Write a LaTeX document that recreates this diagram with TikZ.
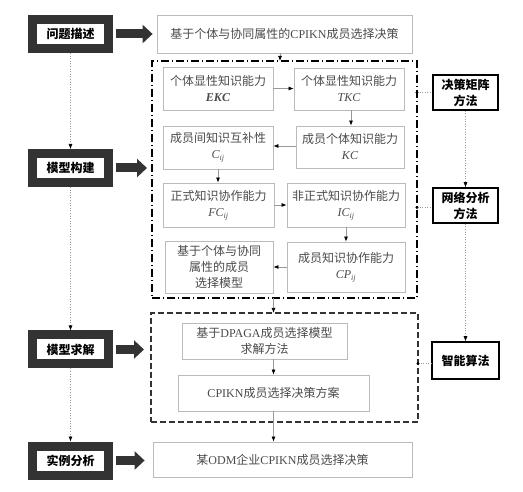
\documentclass[tikz,border=0pt]{standalone}
\usepackage{fontspec}
\setmainfont{Liberation Serif}
\newfontfamily\cjk{Noto Sans CJK SC}
\usetikzlibrary{arrows.meta,calc}
\definecolor{dk}{HTML}{333333}
\definecolor{bx}{HTML}{BBBBBB}
\definecolor{tx}{HTML}{4A4A4A}
\definecolor{ln}{HTML}{999999}
\newcommand\LatT[1]{{\rmfamily #1}}
\newcommand\VarI[1]{{\rmfamily\itshape #1}}
\begin{document}
\begin{tikzpicture}[x=1pt,y=-1pt,
  stage/.style={draw=dk, line width=9pt, fill=white, minimum width=76pt, minimum height=29pt, inner sep=0pt,
    font={\cjk\bfseries\fontsize{12}{16}\selectfont}},
  ibox/.style={draw=bx, line width=0.8pt, text=tx, inner sep=0pt, align=center,
    font={\cjk\fontsize{12}{16}\selectfont}},
  rbox/.style={draw=black, line width=1.5pt, inner sep=0pt, align=center, minimum width=65pt, minimum height=35pt,
    font={\cjk\bfseries\fontsize{12}{16}\selectfont}},
  frame/.style={inner sep=0pt, outer sep=0pt},
  arr/.style={draw=ln, line width=0.7pt, -{Latex[length=5pt,width=4pt,black]}},
  dotarr/.style={draw=ln, line width=0.6pt, dotted, -{Latex[length=5pt,width=4pt,black]}},
  dotln/.style={draw=ln, line width=0.6pt, dotted},
  bigarrow/.style={draw=dk, line width=9pt, -{Triangle[length=10pt,width=18pt]}},
]
\useasboundingbox (0,0) rectangle (523,492);

% stage boxes
\node[stage] (s1) at (70.5,34) {问题描述};
\node[stage] (s2) at (70.5,168) {模型构建};
\node[stage] (s3) at (70.5,349.5) {模型求解};
\node[stage] (s4) at (70.5,460.5) {实例分析};

% frames
\node[frame, draw=black, line width=1.2pt, dash pattern=on 8pt off 3pt on 1pt off 3pt,
  minimum width=265pt, minimum height=237pt] (dd) at (284.5,179.5) {};
\node[frame, draw=dk, line width=1.2pt, dash pattern=on 6pt off 3pt,
  minimum width=267pt, minimum height=109pt] (ds) at (284.5,367.5) {};

% content boxes
\node[ibox, minimum width=255pt, minimum height=38pt] (top) at (284.5,34)
  {基于个体与协同属性的\LatT{CPIKN}成员选择决策};
\node[ibox, minimum width=110pt, minimum height=43pt] (EKC) at (218,88.5)
  {个体显性知识能力\\\VarI{\bfseries EKC}};
\node[ibox, minimum width=110pt, minimum height=42pt] (TKC) at (349,89)
  {个体显性知识能力\\\VarI{TKC}};
\node[ibox, minimum width=110pt, minimum height=43pt] (Cij) at (218,147.5)
  {成员间知识互补性\\\VarI{C\textsubscript{ij}}};
\node[ibox, minimum width=108pt, minimum height=42pt] (KC) at (350,147)
  {成员个体知识能力\\\VarI{KC}};
\node[ibox, minimum width=111pt, minimum height=44pt] (FC) at (218.5,205)
  {正式知识协作能力\\\VarI{FC\textsubscript{ij}}};
\node[ibox, minimum width=118pt, minimum height=44pt] (IC) at (346,205)
  {非正式知识协作能力\\\VarI{IC\textsubscript{ij}}};
\node[ibox, minimum width=108pt, minimum height=52pt] (model) at (219,267)
  {基于个体与协同\\属性的成员\\选择模型};
\node[ibox, minimum width=118pt, minimum height=50pt] (CP) at (346,267)
  {成员知识协作能力\\\VarI{CP\textsubscript{ij}}};
\node[ibox, minimum width=165pt, minimum height=36pt] (DPAGA) at (264.5,341)
  {基于\LatT{DPAGA}成员选择模型\\求解方法};
\node[ibox, minimum width=191pt, minimum height=36pt] (plan) at (273.5,393)
  {\LatT{CPIKN}成员选择决策方案};
\node[ibox, minimum width=259pt, minimum height=35pt] (ODM) at (282.5,459.5)
  {某\LatT{ODM}企业\LatT{CPIKN}成员选择决策};

% right boxes
\node[rbox] (R1) at (465.5,92.5) {决策矩阵\\方法};
\node[rbox] (R2) at (465.5,205.5) {网络分析\\方法};
\node[rbox, minimum width=67pt, minimum height=37pt] (R3) at (465.5,360.5) {智能算法};

% big arrows
\draw[bigarrow, shorten <=3pt, shorten >=4pt] (s1.east) -- (top.west);
\draw[bigarrow, shorten <=3pt, shorten >=5pt] (s2.east) -- (s2.east -| dd.west);
\draw[bigarrow, shorten <=3pt, shorten >=7pt] (s3.east) -- (s3.east -| ds.west);
\draw[bigarrow, shorten <=3pt, shorten >=8pt] (s4.east) -- (s4.east -| ODM.west);

% left dotted arrows
\draw[dotarr] (s1.south) -- (s2.north);
\draw[dotarr] (s2.south) -- (s3.north);
\draw[dotarr] (s3.south) -- (s4.north);

% inner arrows
\draw[arr] ([xshift=-4.5pt]top.south) -- ([xshift=-4.5pt]top.south |- dd.north);
\draw[arr] (EKC.east) -- (EKC.east -| TKC.west);
\draw[arr] ([xshift=2pt]TKC.south) -- ([xshift=2pt]TKC.south |- KC.north);
\draw[arr] ([yshift=1pt]KC.west) -- ([yshift=1pt]KC.west -| Cij.east);
\draw[arr] (Cij.south) -- (Cij.south |- FC.north);
\draw[arr] (FC.east) -- (FC.east -| IC.west);
\draw[arr] (IC.south) -- (IC.south |- CP.north);
\draw[arr] (CP.west) -- (CP.west -| model.east);
\draw[arr] (plan.north |- dd.south) -- (plan.north |- ds.north);
\draw[arr] (DPAGA.south -| plan.north) -- (plan.north);
\draw[arr] (plan.south) -- (plan.south |- ODM.north);

% right side
\draw[dotarr] (R1.south) -- (R2.north);
\draw[dotarr] (R2.south) -- (R3.north);
\coordinate (p1) at (dd.east |- R1.west);
\coordinate (p2) at ([yshift=-2pt]dd.east |- R2.west);
\coordinate (p3) at ([yshift=-3pt]ds.east |- R3.west);
\draw[dotln] (p1) -- (p1 -| R1.west);
\draw[dotln] (p2) -- (p2 -| R2.west);
\draw[dotln] (p3) -- (p3 -| R3.west);
\fill (p1) circle (1.6);
\fill (p2) circle (1.6);
\fill (p3) circle (1.6);
\end{tikzpicture}
\end{document}
